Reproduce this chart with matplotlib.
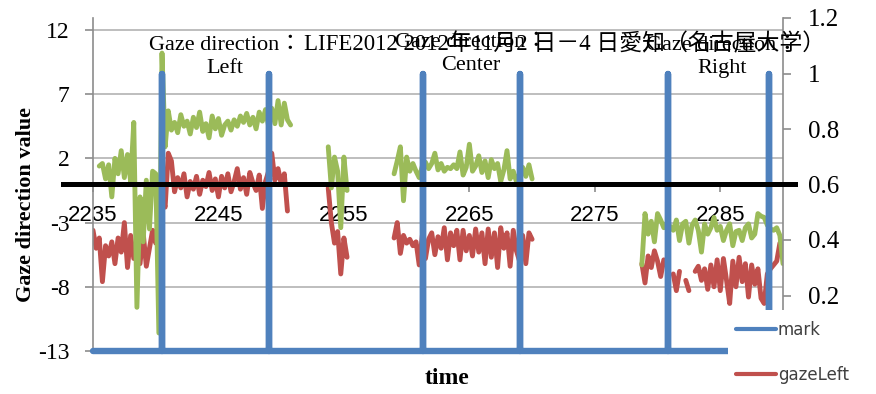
import numpy as np
import matplotlib
matplotlib.use("Agg")
import matplotlib.pyplot as plt
from matplotlib.patches import Rectangle
from matplotlib.transforms import blended_transform_factory

# ---------------- data ----------------
STEP = 0.25  # sampling step of the gaze series

green_start = [2235.5, 2253.75, 2259.0, 2278.75]
green_vals = [
    [1.4, 1.6, 0.4, 1.5, -1.0, 2.0, 0.8, 2.6, 0.5, 2.3, 0.2, 4.8, -9.6, -1.0,
     -4.5, 0.3, -3.5, 1.0, 0.8, -11.6, 10.2, 2.9, 5.7, 4.2, 4.8, 4.0, 5.4, 4.5,
     4.9, 3.9, 5.2, 4.4, 5.6, 4.1, 4.7, 3.6, 5.3, 4.3, 5.1, 3.8, 4.6, 4.9, 4.2,
     5.0, 4.5, 5.3, 4.8, 5.5, 4.6, 5.2, 4.3, 5.6, 4.9, 5.8, 4.5, 5.9, 4.7, 6.5,
     4.6, 6.3, 5.0, 4.6],
    [2.9, -0.3, 2.1, 1.0, -3.4, 2.1, -0.5],
    [0.8, 1.8, 2.9, -1.3, 2.1, 1.0, 1.6, 1.0, 0.5, 1.4, 1.7, 1.2, 1.6, 2.4,
     1.1, 1.6, 1.0, 1.3, 1.2, 1.5, 1.2, 2.5, 0.7, 1.3, 3.1, 1.0, 1.4, 2.2, 0.9,
     1.8, 0.5, 1.9, 1.2, 1.6, 0.2, 1.1, 2.6, 0.4, 1.0, 0.2, 0.8, 1.3, 0.6, 1.5,
     0.4],
    [-6.3, -2.3, -3.9, -2.9, -4.5, -2.3, -2.8, -3.4, -3.0, -3.3, -3.6, -2.8,
     -4.4, -3.1, -2.9, -4.6, -3.2, -2.8, -3.6, -5.3, -3.1, -3.9, -3.4, -2.6,
     -3.6, -3.3, -4.4, -3.6, -3.1, -4.8, -3.7, -3.6, -4.4, -3.4, -3.1, -4.2,
     -3.9, -2.3, -2.5, -2.6, -3.2, -3.5, -3.6, -3.4, -4.0, -6.2],
]

red_start = [2235.0, 2253.75, 2259.0, 2278.75]
red_vals = [
    [-3.6, -5.0, -4.2, -7.6, -4.8, -5.6, -4.5, -6.2, -4.2, -5.3, -3.0, -6.5,
     -4.0, -5.8, -4.6, -6.2, -3.8, -6.4, -5.0, -3.6, -4.6, -2.5, -1.0, -1.8,
     2.4, 1.8, -0.6, 0.5, -0.3, 0.8, -1.0, 0.2, -0.4, 0.6, -0.8, 0.3, -0.2, 0.9,
     -0.5, 0.4, -1.0, 0.6, -0.3, 0.8, -0.6, 0.2, 1.2, -0.4, 0.5, -0.8, 0.9, 0.1,
     -0.5, 0.7, -1.9, 0.2, 1.0, 2.4, 0.3, 1.2, 0.0, 0.8, -2.1],
    [-0.3, -3.0, -4.6, -3.7, -7.0, -4.2, -5.7],
    [-4.2, -3.0, -5.4, -4.0, -4.6, -4.3, -4.8, -4.5, -6.3, -4.0, -5.8, -4.3,
     -3.8, -5.5, -4.1, -5.0, -3.4, -5.9, -3.8, -4.8, -3.6, -5.9, -3.6, -5.2,
     -4.0, -5.6, -3.5, -5.3, -3.8, -6.2, -3.5, -5.7, -3.8, -6.5, -3.4, -5.0,
     -3.8, -6.4, -3.6, -5.2, -6.0, -4.0, -6.2, -3.8, -4.3],
    [-6.2, -7.7, -5.6, -6.5, -5.2, -6.0, -7.2, -5.9, np.nan, np.nan, -7.0,
     -8.3, -6.8, np.nan, -7.5, -8.3, np.nan, -6.8, -6.4, -7.5, -6.6, -8.2, -6.3,
     -8.0, -5.9, -8.3, -5.8, -7.5, -9.3, -6.0, -8.0, -5.7, -7.6, -6.2, -8.8,
     -6.3, -7.8, -6.6, -8.9, -9.3, -7.0, -6.6, -6.3, -6.0, -4.6],
]

mark_times = [2240.5, 2249.0, 2261.3, 2269.0, 2280.8, 2288.9]
mark_range = (2235, 2290)

x_ticks = [2235, 2245, 2255, 2265, 2275, 2285]
y_ticks = [-13, -8, -3, 2, 7, 12]
y2_ticks = [0.2, 0.4, 0.6, 0.8, 1.0, 1.2]
y2_labels = ["0.2", "0.4", "0.6", "0.8", "1", "1.2"]

title = "LIFE2012 2012年11月2 日－4 日愛知（名古屋大学）"
region_labels = ["Gaze direction：\nLeft", "Gaze direction：\nCenter",
                 "Gaze direction：\nRight"]


def join_segments(starts, vals):
    t, v = [], []
    for s, seg in zip(starts, vals):
        t += [s + i * STEP for i in range(len(seg))] + [np.nan]
        v += list(seg) + [np.nan]
    return np.array(t), np.array(v)


green_t, green_v = join_segments(green_start, green_vals)
red_t, red_v = join_segments(red_start, red_vals)

mark_x = [mark_range[0]]
mark_y = [0]
for mt in mark_times:
    mark_x += [mt, mt, mt]
    mark_y += [0, 1, 0]
mark_x.append(mark_range[1])
mark_y.append(0)

# ---------------- figure ----------------
SERIF = ["Liberation Serif", "Noto Sans CJK JP", "DejaVu Serif"]
W, H = 876, 394
fig = plt.figure(figsize=(W / 100, H / 100), dpi=100)
ax = fig.add_axes([93 / W, 43 / H, 690 / W, 333 / H])
ax2 = ax.twinx()

GREEN, RED, BLUE = "#9BBB59", "#C0504D", "#4F81BD"
GRID, SPINE = "#B9B9B9", "#8C8C8C"

# spines first: moving a spine resets its axis ticks
for a in (ax, ax2):
    a.spines["top"].set_visible(False)
ax.spines["right"].set_visible(False)
ax2.spines["left"].set_visible(False)
ax2.spines["bottom"].set_visible(False)
ax.spines["left"].set_color(SPINE)
ax.spines["left"].set_linewidth(1.2)
ax2.spines["right"].set_color(SPINE)
ax2.spines["right"].set_linewidth(1.2)
ax.spines["bottom"].set_position(("data", 0))
ax.spines["bottom"].set_color("black")
ax.spines["bottom"].set_linewidth(3.6)

ax.plot(green_t, green_v, color=GREEN, lw=3.5, solid_capstyle="round",
        solid_joinstyle="round", zorder=3)
l_red, = ax.plot(red_t, red_v, color=RED, lw=3.5, solid_capstyle="round",
                 solid_joinstyle="round", zorder=2)
l_mark, = ax2.plot(mark_x, mark_y, color=BLUE, lw=4.6, solid_capstyle="round",
                   clip_on=False, zorder=3)

ax.set_xlim(2235, 2290)
ax.set_ylim(-13, 12.93)
ax2.set_ylim(0, 1.2)

ax.set_yticks(y_ticks)
ax.set_yticklabels([str(v) for v in y_ticks], fontfamily=SERIF, fontsize=17)
ax.grid(axis="y", color=GRID, lw=1.3)
ax.set_axisbelow(True)
ax.tick_params(axis="y", length=6, width=1.2, color=SPINE, pad=11)

ax.set_xticks(x_ticks)
ax.set_xticklabels([str(v) for v in x_ticks], fontfamily="Liberation Sans",
                   fontsize=16)
ax.tick_params(axis="x", length=6, width=1.2, color=SPINE, pad=9)

ax2.set_yticks(y2_ticks)
ax2.set_yticklabels(y2_labels, fontfamily=SERIF, fontsize=18)
ax2.tick_params(axis="y", length=6, width=1.2, color=SPINE, pad=12)

# thick black zero line drawn on top of everything, overhanging the plot
trans = blended_transform_factory(ax.transAxes, ax.transData)
ax2.plot([-0.044, 1.018], [0, 0], color="black", lw=3.6, transform=trans,
         clip_on=False, zorder=10)

ax.set_ylabel("Gaze direction value", fontfamily=SERIF, fontsize=16,
              fontweight="bold", labelpad=0)
ax.yaxis.set_label_coords(-0.083, 0.44)
fig.text(447 / W, 1 - 379 / H, "time", fontfamily=SERIF, fontsize=17,
         fontweight="bold", ha="center", va="center")

# title and region labels
fig.text(565 / W, 1 - 44 / H, title, fontfamily=SERIF, fontsize=16.5,
         ha="center", va="center")
for xc, yc, lab in zip([225, 471, 722], [57, 54, 57], region_labels):
    fig.text(xc / W, 1 - yc / H, lab, fontfamily=SERIF, fontsize=16,
             ha="center", va="center", linespacing=1.35)

# white box of the (cropped) legend covering the lower right corner
fig.add_artist(Rectangle((728 / W, 0), (W - 728) / W, 84 / H,
                         transform=fig.transFigure, facecolor="white",
                         edgecolor="none", zorder=20))
leg = fig.legend(handles=[l_mark, l_red], labels=["mark", "gazeLeft"],
                 loc="upper left", bbox_to_anchor=(736 / W, 1 - 321 / H),
                 frameon=False, fontsize=12, handlelength=2.4,
                 handletextpad=0.1, labelspacing=1.6, borderpad=0,
                 borderaxespad=0)
leg.set_zorder(21)
for txt in leg.get_texts():
    txt.set_color("#404040")
for ln in leg.get_lines():
    ln.set_linewidth(3)

fig.savefig("out.png", dpi=100)
